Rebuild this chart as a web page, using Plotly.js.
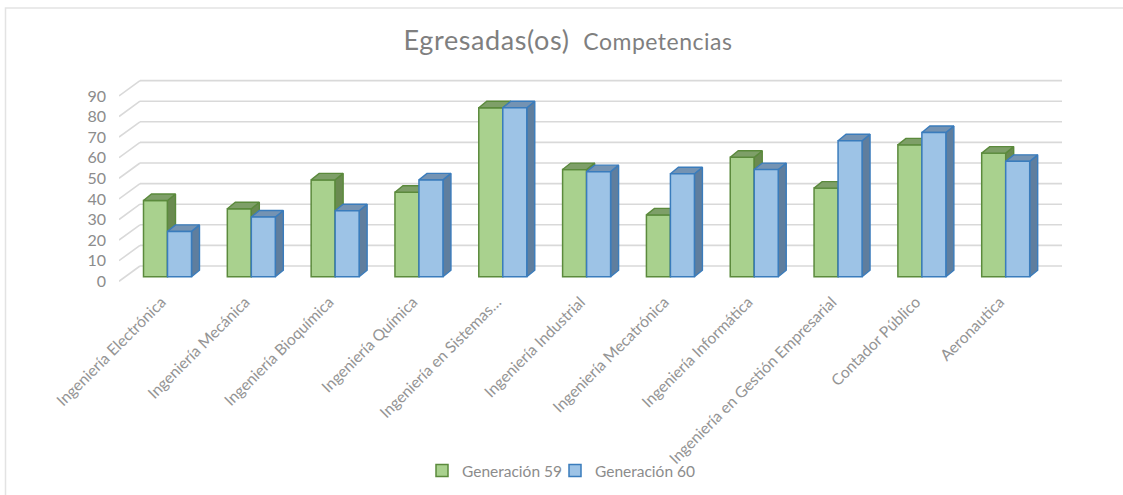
<!DOCTYPE html>
<html><head><meta charset="utf-8">
<script src="https://cdn.plot.ly/plotly-3.0.1.min.js"></script>
<style>html,body{margin:0;padding:0;background:#fff}#c{width:1123px;height:495px}</style>
</head><body><div id="c"></div>
<script>
const categories = ["Ingeniería Electrónica","Ingeniería Mecánica","Ingeniería Bioquímica","Ingeniería Química","Ingeniería en Sistemas…","Ingeniería Industrial","Ingeniería Mecatrónica","Ingeniería Informática","Ingeniería en Gestión Empresarial","Contador Público","Aeronautica"];
const gen59 = [37,33,47,41,82,52,30,58,43,64,60];
const gen60 = [22,29,32,47,82,51,50,52,66,70,56];
const yTicks = [0,10,20,30,40,50,60,70,80,90];

const W=1123,H=495;
const pxU=2.06, pxC=83.82;          // px per value unit, px per category
const x0px=167.5, base=276.7;       // category 0 centre, bar base
const plotL=119, plotR=1062, plotT=70, plotB=289;
const xr=[(plotL-x0px)/pxC,(plotR-x0px)/pxC];
const yr=[(base-plotB)/pxU,(base-plotT)/pxU];
const barW=24/pxC, dX=8/pxC, dY=6.5/pxU;
const wallDX=21/pxC, wallDY=10.7/pxU, wingDY=4.6/pxU; // wall depth relative to the bar plane
const xs=categories.map((_,i)=>i);
const font="Lato, Carlito, sans-serif";
const txt="#8c8c8c";

function faces(vals,off,kind){
  const X=[],Y=[];
  vals.forEach((v,i)=>{
    const l=i+off, r=l+barW;
    if(kind==='top'){X.push(l,r,r+dX,l+dX,l,null);Y.push(v,v,v+dY,v+dY,v,null);}
    else{X.push(r,r+dX,r+dX,r,r,null);Y.push(v,v+dY,dY,0,v,null);}
  });
  return {x:X,y:Y};
}
function poly(vals,off,kind,fill,line){
  const f=faces(vals,off,kind);
  return {type:'scatter',mode:'lines',x:f.x,y:f.y,fill:'toself',fillcolor:fill,line:{color:line,width:1.4},hoverinfo:'skip',showlegend:false,xaxis:'x',yaxis:'y'};
}
const gF='#A9D18E',gL='#5B8A3C',gS='#6A8A50',gT='#7E9F68';
const bF='#9DC3E6',bL='#3A7CBC',bS='#5F7E9E',bT='#7493B3';

const traces=[
  {type:'bar',name:'Generación 59',legend:'legend',x:xs,y:gen59,width:barW,offset:-barW,marker:{color:gF,line:{color:gL,width:1.5}},xaxis:'x',yaxis:'y'},
  poly(gen59,-barW,'side',gS,gL),
  poly(gen59,-barW,'top',gT,gL),
  poly(gen60,0,'side',bS,bL),
  poly(gen60,0,'top',bT,bL),
  {type:'bar',name:'Generación 60',legend:'legend2',x:xs,y:gen60,width:barW,offset:0,marker:{color:bF,line:{color:bL,width:1.5}},xaxis:'x2',yaxis:'y2'}
];

const grid={color:'#D9D9D9',width:1.6};
const shapes=[];
yTicks.forEach(t=>{
  const yb=t+wallDY, yf=t-wingDY;
  shapes.push({type:'line',layer:'below',xref:'x',yref:'y',x0:xr[0]+wallDX,x1:xr[1],y0:yb,y1:yb,line:grid});
  shapes.push({type:'line',layer:'below',xref:'x',yref:'y',x0:xr[0],x1:xr[0]+wallDX,y0:yf,y1:yb,line:grid});
});
const pw=plotR-plotL, ph=plotB-plotT;
shapes.push({type:'path',layer:'below',xref:'paper',yref:'paper',
  path:`M ${(5.5-plotL)/pw} ${(plotB-495)/ph} L ${(5.5-plotL)/pw} ${(plotB-8)/ph} L ${(1123-plotL)/pw} ${(plotB-8)/ph}`,
  line:{color:'#E3E3E3',width:1.5}});

const legendBase={orientation:'h',xref:'container',yref:'container',xanchor:'left',y:1-471/H,yanchor:'middle',font:{family:font,size:15.5,color:txt},bgcolor:'rgba(0,0,0,0)'};
const layout={
  width:W,height:H,autosize:false,paper_bgcolor:'#fff',plot_bgcolor:'rgba(0,0,0,0)',
  margin:{l:plotL,r:W-plotR,t:plotT,b:H-plotB,pad:0},
  font:{family:font,color:txt},
  title:{text:'<span style="letter-spacing:0.6px">Egresadas(os)</span>  <span style="font-size:23px;letter-spacing:0.5px">Competencias</span>',x:568/W,xanchor:'center',y:1-41/H,yanchor:'middle',font:{family:font,size:27,color:'#7f7f7f'}},
  barmode:'overlay',
  xaxis:{range:xr,tickmode:'array',tickvals:xs.map(i=>i-6/pxC),ticktext:categories,tickangle:-45,showgrid:false,zeroline:false,showline:false,ticks:'',tickfont:{family:font,size:15.6,color:'#949494'},fixedrange:true},
  yaxis:{range:yr,tickmode:'array',tickvals:yTicks.map(t=>t-wingDY),ticktext:yTicks.map(String),showgrid:false,zeroline:false,showline:false,ticks:'',ticklabelstandoff:12,tickfont:{family:font,size:16,color:txt},fixedrange:true},
  xaxis2:{overlaying:'x',range:xr,visible:false,fixedrange:true},
  yaxis2:{overlaying:'y',range:yr,visible:false,fixedrange:true},
  showlegend:true,
  legend:Object.assign({x:422/W},legendBase),
  legend2:Object.assign({x:555/W},legendBase),
  shapes:shapes
};
Plotly.newPlot('c',traces,layout,{displayModeBar:false,responsive:false});
</script></body></html>
